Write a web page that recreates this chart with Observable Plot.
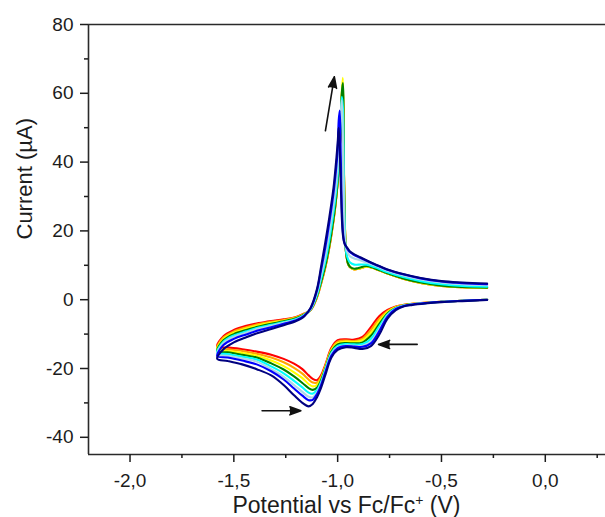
<!DOCTYPE html>
<html>
<head>
<meta charset="utf-8">
<script src="https://cdn.jsdelivr.net/npm/d3@7"></script>
<script src="https://cdn.jsdelivr.net/npm/@observablehq/plot@0.6"></script>
<style>
html, body { margin: 0; padding: 0; background: #fff; }
#chart { width: 605px; height: 517px; overflow: hidden; }
</style>
</head>
<body>
<div id="chart"></div>
<script>
// ---- Potential grids (V vs Fc/Fc+) ----
// forward (cathodic) scan, -0.28 -> -1.58
const E_fwd = [-0.28, -0.40, -0.50, -0.58, -0.64, -0.68, -0.72, -0.76, -0.80, -0.84, -0.88, -0.92, -0.96, -1.00, -1.03, -1.06, -1.08, -1.10, -1.12, -1.14, -1.17, -1.21, -1.26, -1.32, -1.39, -1.46, -1.53, -1.58];
// reverse (anodic) scan, -1.55 -> -0.28
const E_rev = [-1.55, -1.50, -1.44, -1.38, -1.32, -1.26, -1.20, -1.16, -1.13, -1.10, -1.08, -1.06, -1.04, -1.02, -1.01, -1.00, -0.995, -0.99, -0.985, -0.98, -0.975, -0.97, -0.965, -0.96, -0.95, -0.94, -0.92, -0.90, -0.86, -0.82, -0.76, -0.68, -0.60, -0.50, -0.40, -0.28];

// ---- Series (cycles) ----
const seriesNames = ["red", "orange", "yellow", "green", "cyan", "lightblue", "blue", "navy"];
const seriesColors = ["#e5281d", "#f58a20", "#e8e224", "#4ad84a", "#22d0c8", "#2c9cf2", "#1f58e4", "#2b33b6"];

// currents (µA), forward scan
const fwd_red       = [0.0, -0.3, -0.6, -0.9, -1.2, -1.5, -2.0, -3.0, -4.8, -8.0, -10.8, -11.6, -11.5, -11.8, -14.0, -19.0, -22.0, -23.4, -23.0, -22.0, -20.2, -18.6, -17.2, -16.0, -15.1, -14.4, -13.9, -13.6];
const fwd_orange    = [0.0, -0.3, -0.6, -0.9, -1.2, -1.5, -2.1, -3.3, -5.6, -8.8, -11.3, -12.0, -11.9, -12.2, -14.4, -19.4, -22.5, -24.1, -24.1, -23.2, -21.5, -19.8, -18.2, -16.8, -15.7, -14.9, -14.4, -14.1];
const fwd_yellow    = [0.0, -0.3, -0.6, -0.9, -1.2, -1.6, -2.2, -3.6, -6.3, -9.7, -11.8, -12.3, -12.2, -12.6, -14.7, -19.7, -23.0, -24.8, -25.2, -24.5, -22.8, -21.1, -19.3, -17.7, -16.3, -15.5, -14.9, -14.5];
const fwd_green     = [0.0, -0.3, -0.6, -1.0, -1.3, -1.6, -2.4, -4.0, -7.1, -10.5, -12.4, -12.7, -12.6, -13.0, -15.1, -20.1, -23.4, -25.6, -26.2, -25.7, -24.2, -22.3, -20.3, -18.5, -16.8, -16.0, -15.3, -15.0];
const fwd_cyan      = [0.0, -0.3, -0.6, -1.0, -1.3, -1.7, -2.5, -4.3, -7.8, -11.4, -12.9, -13.0, -12.9, -13.4, -15.4, -20.4, -23.9, -26.3, -27.3, -27.0, -25.5, -23.6, -21.4, -19.4, -17.4, -16.6, -15.8, -15.4];
const fwd_lightblue = [0.0, -0.3, -0.6, -1.0, -1.3, -1.7, -2.6, -4.6, -8.6, -12.2, -13.4, -13.4, -13.3, -13.8, -15.8, -20.8, -24.4, -27.0, -28.4, -28.2, -26.8, -24.8, -22.4, -20.2, -18.0, -17.1, -16.3, -15.9];
const fwd_blue      = [0.0, -0.3, -0.6, -1.0, -1.4, -1.8, -2.7, -4.9, -9.2, -12.7, -13.7, -13.6, -13.5, -14.1, -16.2, -21.2, -24.8, -27.5, -29.1, -29.2, -27.9, -25.8, -23.2, -20.8, -18.8, -17.7, -16.8, -16.4];
const fwd_navy      = [-0.1, -0.4, -0.7, -1.1, -1.5, -1.9, -3.0, -5.5, -10.2, -13.5, -14.3, -14.0, -13.8, -14.6, -16.8, -22.0, -25.6, -28.4, -30.3, -31.0, -30.0, -27.8, -24.8, -22.0, -20.2, -18.8, -17.8, -17.2];

// currents (µA), reverse scan
const rev_red       = [-10.6, -8.8, -7.6, -6.8, -6.2, -5.7, -5.0, -4.0, -3.0, 0.6, 4.6, 9.2, 15.2, 23.0, 27.8, 34.0, 38.5, 43.8, 49.8, 59.0, 62.5, 38.0, 21.0, 14.0, 10.5, 9.4, 8.8, 9.0, 9.6, 9.0, 7.6, 6.0, 4.9, 4.0, 3.6, 3.4];
const rev_orange    = [-11.0, -9.2, -8.0, -7.1, -6.4, -5.9, -5.1, -4.1, -3.0, 0.7, 4.8, 9.4, 15.4, 23.2, 28.0, 34.2, 38.6, 44.0, 50.0, 59.5, 63.0, 38.0, 21.0, 14.0, 10.5, 9.4, 8.8, 9.0, 9.6, 9.0, 7.6, 6.0, 4.9, 4.0, 3.6, 3.4];
const rev_yellow    = [-11.4, -9.6, -8.4, -7.4, -6.7, -6.1, -5.3, -4.2, -2.9, 0.8, 4.9, 9.5, 15.6, 23.4, 28.1, 34.3, 38.7, 44.1, 50.2, 60.0, 64.5, 40.0, 22.0, 14.5, 10.5, 9.4, 8.8, 9.0, 9.6, 9.0, 7.6, 6.0, 4.9, 4.0, 3.6, 3.4];
const rev_green     = [-11.8, -10.0, -8.8, -7.8, -7.0, -6.3, -5.4, -4.3, -2.9, 1.0, 5.1, 9.7, 15.8, 23.5, 28.2, 34.4, 38.8, 44.2, 50.3, 60.0, 63.0, 38.0, 21.0, 14.0, 10.5, 9.5, 9.0, 9.2, 9.8, 9.1, 7.7, 6.1, 5.0, 4.1, 3.7, 3.5];
const rev_cyan      = [-12.2, -10.4, -9.2, -8.1, -7.3, -6.5, -5.6, -4.4, -2.8, 1.4, 6.0, 11.0, 17.5, 25.5, 30.2, 36.2, 40.5, 46.0, 52.0, 59.0, 56.0, 34.0, 19.5, 14.2, 11.8, 10.8, 10.2, 10.2, 10.2, 9.4, 8.0, 6.5, 5.4, 4.5, 4.0, 3.8];
const rev_lightblue = [-12.6, -10.8, -9.6, -8.4, -7.6, -6.7, -5.8, -4.5, -2.7, 1.9, 7.0, 12.5, 19.5, 27.5, 32.2, 38.5, 43.0, 48.0, 53.5, 58.0, 48.0, 28.0, 18.0, 15.0, 13.4, 12.6, 12.0, 11.6, 10.8, 9.9, 8.4, 7.0, 5.9, 5.0, 4.5, 4.2];
const rev_blue      = [-13.2, -11.4, -10.1, -8.9, -8.0, -7.0, -6.0, -4.6, -2.5, 2.6, 8.6, 15.0, 22.5, 31.0, 36.5, 43.5, 52.0, 55.0, 42.0, 27.0, 20.0, 17.2, 16.2, 15.5, 14.5, 13.8, 13.0, 12.4, 11.3, 10.2, 8.7, 7.3, 6.2, 5.3, 4.8, 4.5];
const rev_navy      = [-14.4, -12.4, -10.9, -9.6, -8.5, -7.4, -6.2, -4.8, -2.3, 3.0, 9.5, 16.5, 24.0, 32.5, 38.5, 45.5, 50.0, 44.0, 34.0, 24.0, 19.0, 17.0, 16.0, 15.6, 14.8, 14.0, 13.2, 12.6, 11.4, 10.3, 8.8, 7.4, 6.3, 5.4, 5.0, 4.7];

// ---- Axes / text ----
const xTicks = [-2.0, -1.5, -1.0, -0.5, 0.0];
const xMinorTicks = [-1.75, -1.25, -0.75, -0.25, 0.25];
const yTicks = [-40, -20, 0, 20, 40, 60, 80];
const yMinorTicks = [-30, -10, 10, 30, 50, 70];
const xDomain = [-2.2, 0.29];
const yDomain = [-45, 80];
const xTitleMain = "Potential vs Fc/Fc";
const xTitleSup = "+";
const xTitleEnd = " (V)";
const yTitle = "Current (µA)";

// ---- Annotation arrows (data units) ----
const arrowX1 = [-1.059, -1.364, -0.617];
const arrowY1 = [49.1, -32.3, -13.0];
const arrowX2 = [-1.016, -1.177, -0.803];
const arrowY2 = [64.8, -32.3, -13.0];

// ---- Build table ----
const fwd = {red: fwd_red, orange: fwd_orange, yellow: fwd_yellow, green: fwd_green, cyan: fwd_cyan, lightblue: fwd_lightblue, blue: fwd_blue, navy: fwd_navy};
const rev = {red: rev_red, orange: rev_orange, yellow: rev_yellow, green: rev_green, cyan: rev_cyan, lightblue: rev_lightblue, blue: rev_blue, navy: rev_navy};
const rows = [];
for (const s of seriesNames) {
  E_fwd.forEach((e, i) => rows.push({series: s, E: e, I: fwd[s][i]}));
  E_rev.forEach((e, i) => rows.push({series: s, E: e, I: rev[s][i]}));
}
const arrows = arrowX1.map((_, i) => ({x1: arrowX1[i], y1: arrowY1[i], x2: arrowX2[i], y2: arrowY2[i]}));

const FONT = "'Liberation Sans', Arial, Helvetica, sans-serif";
const INK = "#1c1c1c";

const plot = Plot.plot({
  width: 605,
  height: 517,
  marginLeft: 88,
  marginRight: 0,
  marginTop: 24,
  marginBottom: 63,
  style: {fontFamily: FONT, fontSize: "19px", color: INK, background: "#fff"},
  x: {domain: xDomain, axis: null, label: null},
  y: {domain: yDomain, axis: null, label: null},
  color: {domain: seriesNames, range: seriesColors},
  marks: [
    Plot.line(rows, {x: "E", y: "I", z: "series", stroke: "series", strokeWidth: 2.1, curve: "catmull-rom"}),
    Plot.arrow(arrows, {x1: "x1", y1: "y1", x2: "x2", y2: "y2", stroke: "#111", fill: "#111", strokeWidth: 1.6, headLength: 11, headAngle: 40}),
    Plot.ruleY([yDomain[0], yDomain[1]], {stroke: "#2a2a2a", strokeWidth: 1.6}),
    Plot.ruleX([xDomain[0]], {stroke: "#2a2a2a", strokeWidth: 1.6}),
    Plot.axisX(xTicks, {tickSize: 8, tickPadding: 11, strokeWidth: 1.5, fontSize: 19, label: null,
      tickFormat: d => d.toFixed(1).replace(".", ",")}),
    Plot.axisX(xMinorTicks, {tickSize: 4, strokeWidth: 1.5, label: null, tickFormat: () => ""}),
    Plot.axisY(yTicks, {tickSize: 8, tickPadding: 7, strokeWidth: 1.5, fontSize: 19, label: null,
      tickFormat: d => String(d)}),
    Plot.axisY(yMinorTicks, {tickSize: 4, strokeWidth: 1.5, label: null, tickFormat: () => ""}),
    Plot.text([yTitle], {text: d => d, frameAnchor: "left", dx: -64, rotate: -90, fontSize: 22, fill: INK})
  ]
});

// x-axis title with superscript
const xr = plot.scale("x").range;
const t = d3.select(plot).append("text")
  .attr("x", (xr[0] + xr[1]) / 2)
  .attr("y", 513)
  .attr("text-anchor", "middle")
  .attr("font-family", FONT)
  .attr("font-size", 23)
  .attr("fill", INK);
t.append("tspan").text(xTitleMain);
t.append("tspan").attr("dy", -8).attr("font-size", 14).text(xTitleSup);
t.append("tspan").attr("dy", 8).text(xTitleEnd);

document.getElementById("chart").appendChild(plot);
</script>
</body>
</html>
